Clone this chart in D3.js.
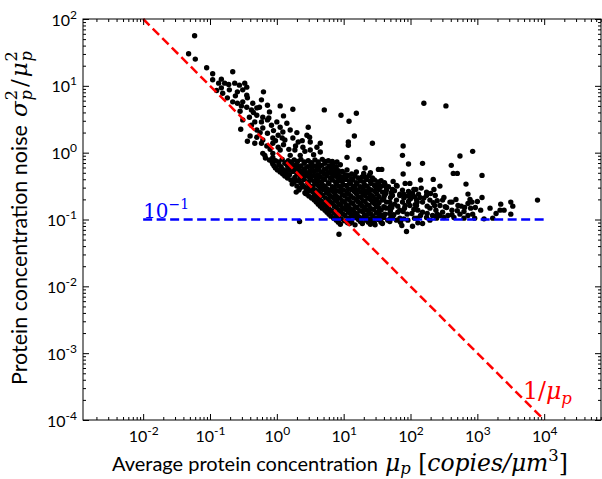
<!DOCTYPE html>
<html><head><meta charset="utf-8">
<script src="https://cdn.jsdelivr.net/npm/d3@7"></script>
<style>body{margin:0;background:#fff}svg{display:block}</style>
</head><body>
<svg id="chart" width="602" height="479"></svg>
<script>
// ---- data: [log10 mean concentration, log10 noise] ----
const samples = [
[-1.23,1.75],[-1.32,1.48],[-1.22,1.40],[-1.05,1.27],[-0.96,1.18],[-0.96,1.09],[-0.66,1.21],[-0.83,1.10],[-0.78,1.04],[-0.83,0.97],[-0.81,0.89],[-0.71,0.94],[-0.63,1.04],[-0.56,1.01],[-0.48,1.04],[-0.59,0.91],[-0.51,0.94],[-0.45,0.86],[-0.74,0.82],[-0.66,0.76],[-0.59,0.74],[-0.51,0.76],[-0.44,0.82],[-0.36,0.74],[-0.45,0.68],[-0.38,0.64],[-0.30,0.67],[-0.23,0.79],[-0.20,0.91],[-0.26,0.68],[-0.14,0.71],[0.05,0.70],[0.24,0.65],[-0.30,0.56],[-0.21,0.53],[-0.11,0.61],[-0.14,0.49],[-0.23,0.46],[-0.33,0.46],[-0.41,0.53],[-0.51,0.49],[-0.54,0.35],[-0.38,0.41],[-0.30,0.34],[-0.21,0.37],[-0.08,0.41],[0.00,0.46],[0.05,0.38],[0.15,0.44],[0.20,0.34],[0.09,0.31],[0.02,0.26],[-0.06,0.22],[-0.14,0.29],[-0.21,0.19],[-0.30,0.23],[-0.44,0.17],[-0.33,0.14],[-0.23,0.14],[-0.15,0.10],[-0.06,0.14],[0.02,0.08],[0.12,0.19],[0.24,0.22],[0.32,0.16],[0.39,0.08],[0.47,0.38],[0.45,0.26],[0.65,0.14],[0.27,0.04],[0.35,-0.04],[0.20,-0.04],[0.05,0.04],[-0.06,-0.01],[-0.18,-0.04],[0.50,0.04],[-0.21,-0.01],[-0.17,-0.08],[-0.06,-0.07],
[-0.10,0.05],[0.10,0.12],[0.18,0.05],[0.28,0.10],[-0.02,0.18],[0.08,0.22],[-0.25,0.30],[-0.40,0.25],[-0.05,0.33],[0.30,0.30],[0.38,0.18],[0.42,0.02],[0.55,-0.03],[0.60,0.08],[-0.35,0.60],[-0.55,0.62],[-0.62,0.85],[-0.72,1.02],[-0.87,1.04],[-0.90,0.93],[-0.45,0.98],[-0.53,0.70],[-0.12,0.52],[0.10,0.55],
[0.71,0.64],[0.96,0.56],[1.08,0.47],[1.19,0.59],[2.20,0.74],[2.53,0.70],[0.50,0.16],[0.65,0.01],[1.07,0.16],[1.07,0.11],[1.16,0.25],[1.43,0.14],[1.05,-0.07],[1.23,-0.10],[0.83,-0.13],[0.90,-0.14],[1.52,-0.25],[0.98,-0.28],[1.89,0.10],[1.88,-0.04],[1.97,-0.17],[2.18,-0.16],[1.89,-0.32],[2.61,-0.19],[2.74,-0.05],[2.93,0.02],[2.64,-0.31],[2.70,-0.31],[3.07,-0.34],[1.74,-0.43],[2.15,-0.41],[2.34,-0.40],[2.44,-0.50],[2.35,-0.55],[2.83,-0.47],
[3.07,-0.67],[3.00,-0.73],[3.19,-0.83],[3.23,-0.98],[3.35,-0.77],[3.34,-0.86],[3.40,-0.86],[3.50,-0.74],[3.53,-0.80],[3.50,-0.92],[3.90,-0.71],[2.89,-0.70],[2.86,-0.76],[2.90,-0.83],[2.80,-0.88],[2.86,-0.94],[2.96,-0.98],[2.68,-0.70],[2.54,-0.82],[2.62,-0.86],[2.48,-0.89],[2.56,-0.94],[2.65,-0.97],[2.74,-0.92],
[0.93,-1.22],[1.94,-1.18],[1.09,-1.06],[0.34,-1.03],[2.03,-1.10],[1.87,-1.09],
[1.79,-0.49],[1.99,-0.46],[2.08,-0.55],[2.03,-0.61],[1.90,-0.62],[1.73,-0.55],[1.64,-0.52],[1.54,-0.52],[2.86,-0.62],[2.92,-0.74],[2.97,-0.82],[2.59,-0.74],[2.48,-0.71],[2.44,-0.79],[2.81,-0.82],[2.71,-0.79],[1.58,-1.06],[2.18,-1.06],[2.29,-1.01],[2.39,-0.98],[2.44,-0.94],[2.33,-0.94],[2.24,-0.97],[2.18,-0.89],[2.29,-0.83],[2.36,-0.79],[2.29,-0.71],[2.18,-0.74],[2.14,-0.67],[2.24,-0.64],[2.09,-0.79],[2.11,-0.86],[2.02,-0.91],[2.06,-0.98],[1.96,-1.01],[1.84,-0.98],[1.73,-0.97],[1.66,-1.01],[1.69,-0.91],[1.81,-0.89],[1.91,-0.83],[1.99,-0.79],[1.88,-0.74],[1.79,-0.71],[1.69,-0.74],[1.58,-0.71],[1.61,-0.82],[1.72,-0.82],[1.81,-0.80],[2.09,-0.71],[1.84,-0.64],[1.61,-0.64],[1.54,-0.86],[1.57,-0.94],[1.57,-0.25],[0.09,-0.31],[0.16,-0.26],[0.27,-0.37],[0.43,-0.61],[0.49,-0.52],[0.54,-0.67],[0.49,0.23],
[-0.11,-0.11],[-0.02,-0.12],[0.08,-0.10],[0.17,-0.12],[0.26,-0.11],[0.36,-0.10],[0.47,-0.12],[0.57,-0.11],[0.68,-0.10],[0.77,-0.12],
[-0.07,-0.14],[0.03,-0.14],[0.13,-0.15],[0.22,-0.14],[0.31,-0.13],[0.41,-0.14],[0.52,-0.15],[0.62,-0.14],[0.72,-0.13],[0.82,-0.14],
[-0.06,-0.17],[0.03,-0.18],[0.12,-0.16],[0.21,-0.17],[0.30,-0.18],[0.41,-0.16],[0.51,-0.17],[0.62,-0.18],[0.72,-0.16],[0.84,-0.17],[0.95,-0.18],
[-0.04,-0.20],[0.06,-0.21],[0.16,-0.20],[0.27,-0.19],[0.36,-0.20],[0.46,-0.21],[0.57,-0.20],[0.67,-0.19],[0.78,-0.20],[0.89,-0.21],
[-0.02,-0.23],[0.08,-0.24],[0.23,-0.22],[0.33,-0.23],[0.42,-0.24],[0.53,-0.22],[0.63,-0.23],[0.74,-0.24],[0.84,-0.22],[1.32,-0.23],
[0.01,-0.26],[0.11,-0.27],[0.19,-0.26],[0.29,-0.25],[0.40,-0.26],[0.50,-0.27],[0.60,-0.26],[0.71,-0.25],[0.81,-0.26],[0.92,-0.27],[1.05,-0.26],
[0.05,-0.29],[0.14,-0.30],[0.24,-0.28],[0.35,-0.29],[0.45,-0.30],[0.56,-0.28],[0.66,-0.29],[0.77,-0.30],[0.87,-0.28],[1.19,-0.29],[1.40,-0.30],
[0.09,-0.32],[0.19,-0.33],[0.30,-0.32],[0.40,-0.31],[0.50,-0.32],[0.61,-0.33],[0.71,-0.32],[0.82,-0.31],[0.92,-0.32],[1.02,-0.33],[1.12,-0.32],[1.30,-0.31],
[0.12,-0.35],[0.35,-0.36],[0.44,-0.34],[0.54,-0.35],[0.65,-0.36],[0.75,-0.34],[0.86,-0.35],[0.96,-0.36],[1.07,-0.34],[1.17,-0.35],[1.28,-0.36],[1.38,-0.34],
[0.16,-0.38],[0.27,-0.39],[0.38,-0.38],[0.49,-0.37],[0.59,-0.38],[0.70,-0.39],[0.80,-0.38],[0.91,-0.37],[1.01,-0.38],[1.12,-0.39],[1.22,-0.38],[1.33,-0.37],[1.43,-0.38],
[0.21,-0.41],[0.32,-0.42],[0.41,-0.40],[0.51,-0.41],[0.62,-0.42],[0.72,-0.40],[0.83,-0.41],[0.93,-0.42],[1.04,-0.40],[1.14,-0.41],[1.25,-0.42],[1.35,-0.40],[1.46,-0.41],[1.56,-0.42],
[0.26,-0.44],[0.36,-0.45],[0.46,-0.44],[0.56,-0.43],[0.67,-0.44],[0.77,-0.45],[0.88,-0.44],[0.98,-0.43],[1.09,-0.44],[1.19,-0.45],[1.30,-0.44],[1.40,-0.43],[1.51,-0.44],[1.61,-0.45],
[0.23,-0.47],[0.38,-0.48],[0.47,-0.46],[0.57,-0.47],[0.68,-0.48],[0.78,-0.46],[0.89,-0.47],[0.99,-0.48],[1.10,-0.46],[1.20,-0.47],[1.31,-0.48],[1.41,-0.46],[1.52,-0.47],[1.62,-0.48],[1.92,-0.46],
[0.30,-0.50],[0.41,-0.51],[0.51,-0.50],[0.62,-0.49],[0.72,-0.50],[0.83,-0.51],[0.93,-0.50],[1.04,-0.49],[1.14,-0.50],[1.25,-0.51],[1.35,-0.50],[1.46,-0.49],[1.57,-0.50],[1.67,-0.51],[1.80,-0.50],
[0.35,-0.53],[0.44,-0.54],[0.54,-0.52],[0.65,-0.53],[0.75,-0.54],[0.86,-0.52],[0.96,-0.53],[1.07,-0.54],[1.17,-0.52],[1.28,-0.53],[1.38,-0.54],[1.49,-0.52],[2.16,-0.53],
[0.33,-0.56],[0.48,-0.57],[0.58,-0.56],[0.69,-0.55],[0.79,-0.56],[0.90,-0.57],[1.00,-0.56],[1.11,-0.55],[1.21,-0.56],[1.32,-0.57],[1.42,-0.56],[1.53,-0.55],[1.64,-0.56],[1.76,-0.57],[1.88,-0.56],[2.05,-0.55],
[0.29,-0.59],[0.42,-0.60],[0.53,-0.58],[0.63,-0.59],[0.74,-0.60],[0.84,-0.58],[0.95,-0.59],[1.05,-0.60],[1.16,-0.58],[1.26,-0.59],[1.37,-0.60],[1.47,-0.58],[1.58,-0.59],[1.71,-0.60],[1.97,-0.58],[2.24,-0.59],
[0.45,-0.62],[0.56,-0.63],[0.66,-0.62],[0.77,-0.61],[0.87,-0.62],[0.98,-0.63],[1.08,-0.62],[1.19,-0.61],[1.29,-0.62],[1.40,-0.63],[1.50,-0.62],[1.63,-0.61],[1.84,-0.62],[2.00,-0.63],[2.12,-0.62],[2.30,-0.61],
[0.48,-0.65],[0.59,-0.66],[0.69,-0.64],[0.80,-0.65],[0.90,-0.66],[1.01,-0.64],[1.11,-0.65],[1.22,-0.66],[1.32,-0.64],[1.43,-0.65],[1.53,-0.66],[1.73,-0.64],[1.95,-0.65],[2.06,-0.66],[2.37,-0.64],
[0.52,-0.68],[0.63,-0.69],[0.73,-0.68],[0.84,-0.67],[0.94,-0.68],[1.05,-0.69],[1.15,-0.68],[1.26,-0.67],[1.36,-0.68],[1.47,-0.69],[1.60,-0.68],[1.70,-0.67],[1.90,-0.68],[2.00,-0.69],[2.20,-0.68],[2.50,-0.67],
[0.56,-0.71],[0.66,-0.72],[0.77,-0.70],[0.87,-0.71],[0.98,-0.72],[1.08,-0.70],[1.19,-0.71],[1.29,-0.72],[1.40,-0.70],[1.50,-0.71],[2.40,-0.72],
[0.59,-0.74],[0.69,-0.75],[0.80,-0.74],[0.90,-0.73],[1.01,-0.74],[1.11,-0.75],[1.22,-0.74],[1.32,-0.73],[1.43,-0.74],[1.53,-0.75],[1.64,-0.74],[1.97,-0.73],[2.10,-0.74],[2.34,-0.75],[2.62,-0.74],
[0.62,-0.77],[0.72,-0.78],[0.83,-0.76],[0.93,-0.77],[1.04,-0.78],[1.14,-0.76],[1.25,-0.77],[1.35,-0.78],[1.46,-0.76],[1.76,-0.77],[2.07,-0.78],
[0.65,-0.80],[0.75,-0.81],[0.86,-0.80],[0.96,-0.79],[1.07,-0.80],[1.17,-0.81],[1.28,-0.80],[1.38,-0.79],[1.49,-0.80],[1.60,-0.81],[1.70,-0.80],[1.92,-0.79],[2.25,-0.80],[2.52,-0.81],[2.76,-0.80],
[0.68,-0.83],[0.78,-0.84],[0.89,-0.82],[0.99,-0.83],[1.10,-0.84],[1.20,-0.82],[1.31,-0.83],[1.41,-0.84],[1.52,-0.82],[1.64,-0.83],
[0.72,-0.86],[0.82,-0.87],[0.93,-0.86],[1.03,-0.85],[1.14,-0.86],[1.24,-0.87],[1.35,-0.86],[1.45,-0.85],[1.56,-0.86],[1.70,-0.87],[1.84,-0.86],[2.05,-0.85],[2.38,-0.86],[2.70,-0.87],[3.05,-0.86],
[0.75,-0.89],[0.86,-0.90],[0.96,-0.88],[1.07,-0.89],[1.17,-0.90],[1.28,-0.88],[1.38,-0.89],[1.49,-0.90],[1.89,-0.88],
[0.78,-0.92],[0.89,-0.93],[0.99,-0.92],[1.10,-0.91],[1.20,-0.92],[1.31,-0.93],[1.41,-0.92],[1.52,-0.91],[1.62,-0.92],[1.75,-0.93],[1.95,-0.92],[2.25,-0.91],[2.40,-0.92],[2.62,-0.93],[2.93,-0.92],[3.28,-0.91],
[0.81,-0.95],[0.92,-0.96],[1.02,-0.94],[1.13,-0.95],[1.23,-0.96],[1.34,-0.94],[1.44,-0.95],[1.55,-0.96],[2.15,-0.94],
[0.85,-0.98],[0.96,-0.99],[1.07,-0.98],[1.18,-0.97],[1.28,-0.98],[1.39,-0.99],[1.49,-0.98],[1.60,-0.97],[1.70,-0.98],[1.90,-0.99],[2.10,-0.98],[2.50,-0.97],[2.80,-0.98],[3.10,-0.99],
[0.89,-1.01],[1.01,-1.02],[1.22,-1.00],[1.34,-1.01],[1.43,-1.02],[1.52,-1.00],[1.79,-1.01],
[0.92,-1.04],[1.06,-1.05],[1.12,-1.04],[1.25,-1.03],[1.37,-1.04],[1.46,-1.05],[1.56,-1.04],[1.69,-1.03],[1.85,-1.04],[2.11,-1.05],
[0.95,-1.07],[1.17,-1.08],[1.28,-1.06],[1.40,-1.07],[1.47,-1.08]
];
const xTickExponents = [-2, -1, 0, 1, 2, 3, 4];
const yTickExponents = [-4, -3, -2, -1, 0, 1, 2];
const xDomain = [Math.pow(10, -2.9), Math.pow(10, 4.85)];
const yDomain = [1e-4, 1e2];
const refLineMu = [1e-2, 1e4];     // extent of both reference lines
const noiseFloor = 0.1;            // horizontal reference 10^-1

// ---- layout ----
const M = {left: 83, right: 601, top: 19, bottom: 420};
const sans = "Lato, 'Open Sans', sans-serif";
const mathF = "'DejaVu Serif', 'Liberation Serif', serif";

const svg = d3.select("#chart");
const x = d3.scaleLog().domain(xDomain).range([M.left, M.right]);
const y = d3.scaleLog().domain(yDomain).range([M.bottom, M.top]);

const points = samples.map(d => ({mu: Math.pow(10, d[0]), noise: Math.pow(10, d[1])}));

svg.append("g").selectAll("circle").data(points).join("circle")
  .attr("cx", d => x(d.mu)).attr("cy", d => y(d.noise)).attr("r", 2.7).attr("fill", "#000");

const line = d3.line().x(d => x(d[0])).y(d => y(d[1]));
svg.append("path").datum(refLineMu.map(m => [m, 1 / m])).attr("d", line)
  .attr("fill", "none").attr("stroke", "#ff0000").attr("stroke-width", 2.5).attr("stroke-dasharray", "9,4.5");
svg.append("path").datum(refLineMu.map(m => [m, noiseFloor])).attr("d", line)
  .attr("fill", "none").attr("stroke", "#0000ff").attr("stroke-width", 2.5).attr("stroke-dasharray", "9,4.5");

// axes
const isPow = v => Math.abs(Math.log10(v) - Math.round(Math.log10(v))) < 1e-6;
const xMinor = x.ticks().filter(v => !isPow(v));
const yMinor = y.ticks().filter(v => !isPow(v));
const xMajor = xTickExponents.map(e => Math.pow(10, e));
const yMajor = yTickExponents.map(e => Math.pow(10, e));

function addAxis(gen, scale, tr, minor, major) {
  const g1 = svg.append("g").attr("transform", tr)
    .call(gen(scale).tickValues(minor).tickSize(-3).tickFormat(""));
  g1.select(".domain").remove();
  const g2 = svg.append("g").attr("transform", tr)
    .call(gen(scale).tickValues(major).tickSize(-6).tickFormat(""));
  g2.select(".domain").remove();
  return g2;
}
const gb = addAxis(d3.axisBottom, x, `translate(0,${M.bottom})`, xMinor, xMajor);
addAxis(d3.axisTop, x, `translate(0,${M.top})`, xMinor, xMajor);
const gl = addAxis(d3.axisLeft, y, `translate(${M.left},0)`, yMinor, yMajor);
addAxis(d3.axisRight, y, `translate(${M.right},0)`, yMinor, yMajor);

svg.append("rect").attr("x", M.left).attr("y", M.top)
  .attr("width", M.right - M.left).attr("height", M.bottom - M.top)
  .attr("fill", "none").attr("stroke", "#000").attr("stroke-width", 1);

function powText(t, e) {
  t.text("");
  t.append("tspan").text("10");
  t.append("tspan").attr("font-size", 12).attr("dy", -7).text(String(e));
}
gb.selectAll(".tick").each(function(d) {
  const t = d3.select(this).append("text").attr("y", 22).attr("fill", "#000")
    .attr("text-anchor", "middle").attr("font-family", sans).attr("font-size", 16);
  powText(t, Math.round(Math.log10(d)));
});
gl.selectAll(".tick").each(function(d) {
  const t = d3.select(this).append("text").attr("x", -6).attr("dy", 6).attr("fill", "#000")
    .attr("text-anchor", "end").attr("font-family", sans).attr("font-size", 16);
  powText(t, Math.round(Math.log10(d)));
});

// helper: build a text, measure it, rebuild at the font size that gives the wanted width
function fitted(parent, build, F0, width) {
  let t = build(parent, F0);
  const w = t.node().getBBox().width;
  t.remove();
  return build(parent, F0 * width / w);
}
function sansPart(str, px, py) {
  return (p, F) => p.append("text").attr("x", px).attr("y", py)
    .attr("font-family", sans).attr("font-size", F).attr("fill", "#000").text(str);
}

// x label
fitted(svg, sansPart("Average protein concentration", 112, 471), 20, 266);
fitted(svg, (p, F) => {
  const t = p.append("text").attr("x", 385).attr("y", 471).attr("font-family", mathF)
    .attr("font-size", F).attr("fill", "#000");
  t.append("tspan").attr("font-style", "italic").text("μ");
  t.append("tspan").attr("font-style", "italic").attr("font-size", 0.7 * F).attr("dy", 0.14 * F).text("p");
  t.append("tspan").attr("dy", -0.14 * F).text(" [");
  t.append("tspan").attr("font-style", "italic").text("copies/μm");
  t.append("tspan").attr("font-size", 0.7 * F).attr("dy", -0.42 * F).text("3");
  t.append("tspan").attr("dy", 0.42 * F).text("]");
  return t;
}, 22, 183);

// y label
const yg = svg.append("g").attr("transform", "translate(27,385) rotate(-90)");
fitted(yg, sansPart("Protein concentration noise", 0, 0), 20, 260);
{
  const F = 23;
  const t = yg.append("text").attr("x", 268).attr("y", 0).attr("font-family", mathF)
    .attr("font-size", F).attr("fill", "#000");
  t.append("tspan").attr("font-style", "italic").text("σ");
  t.append("tspan").attr("font-size", 0.7 * F).attr("dx", 1).attr("dy", -0.42 * F).text("2");
  t.append("tspan").attr("font-style", "italic").attr("font-size", 0.7 * F).attr("dx", -0.45 * F).attr("dy", 0.62 * F).text("p");
  t.append("tspan").attr("dx", 3).attr("dy", -0.2 * F).text("/");
  t.append("tspan").attr("font-style", "italic").attr("dx", 2).text("μ");
  t.append("tspan").attr("font-size", 0.7 * F).attr("dx", 1).attr("dy", -0.42 * F).text("2");
  t.append("tspan").attr("font-style", "italic").attr("font-size", 0.7 * F).attr("dx", -0.45 * F).attr("dy", 0.62 * F).text("p");
}

// annotations
fitted(svg, (p, F) => {
  const t = p.append("text").attr("x", x(refLineMu[0])).attr("y", y(noiseFloor) - 2)
    .attr("font-family", mathF).attr("font-size", F).attr("fill", "#0000ff");
  t.append("tspan").text("10");
  t.append("tspan").attr("font-size", 0.7 * F).attr("dy", -0.42 * F).text("−1");
  return t;
}, 20, 46);
fitted(svg, (p, F) => {
  const t = p.append("text").attr("x", 523).attr("y", 399)
    .attr("font-family", mathF).attr("font-size", F).attr("fill", "#ff0000");
  t.append("tspan").text("1/");
  t.append("tspan").attr("font-style", "italic").text("μ");
  t.append("tspan").attr("font-style", "italic").attr("font-size", 0.7 * F).attr("dy", 0.22 * F).text("p");
  return t;
}, 20, 49);
</script>
</body></html>
